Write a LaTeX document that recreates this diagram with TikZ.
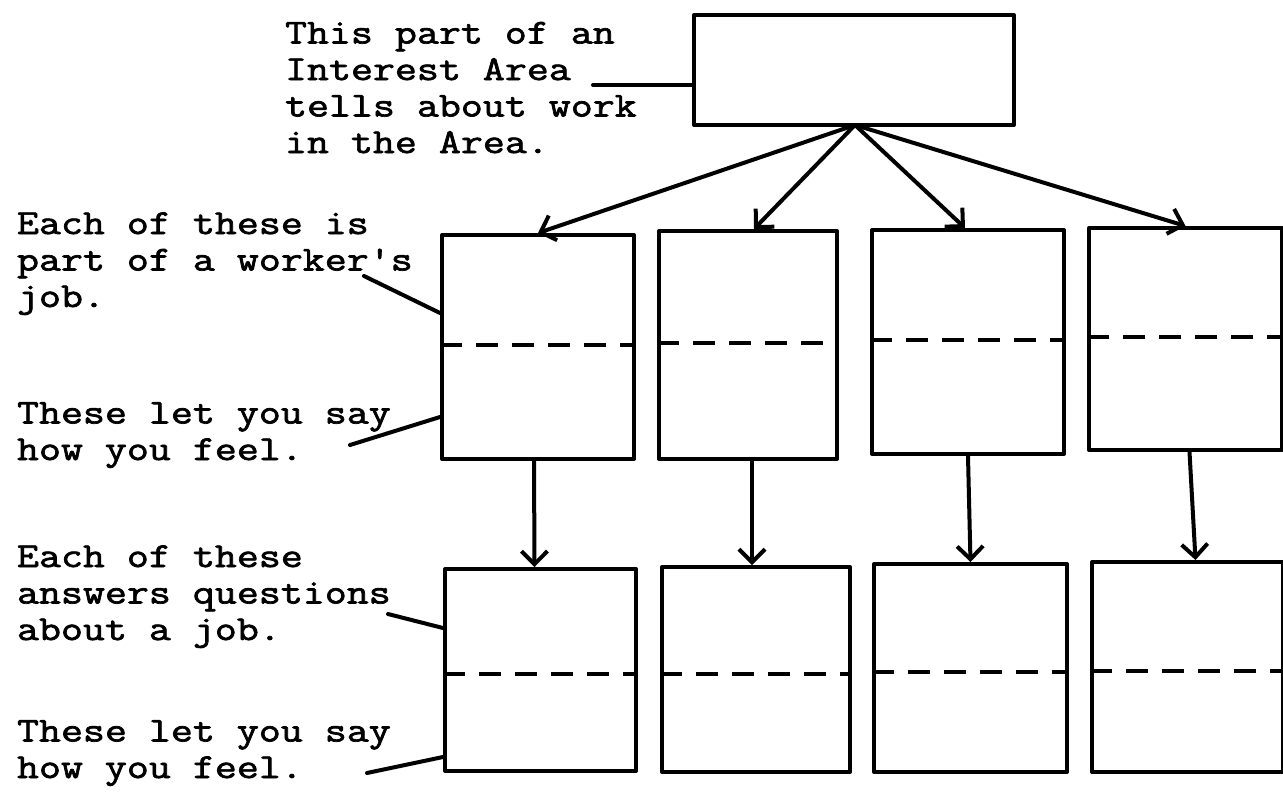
\documentclass[tikz,border=0pt]{standalone}
\usepackage{fontspec}
\usetikzlibrary{arrows.meta,calc}
\newfontfamily\typewriter[FakeStretch=1.22,FakeBold=2]{Latin Modern Mono}
\begin{document}
\begin{tikzpicture}[x=1pt,y=-1pt,
  line width=4pt, line cap=round, line join=round,
  box/.style={draw, rectangle, inner sep=0pt, anchor=north west},
  divider/.style={dash pattern=on 22pt off 14pt, line cap=butt},
  pointer/.style={-{Straight Barb[length=13pt,width=26pt,line width=4pt]}},
  % anchored at the baseline of the last line of each note
  note/.style={align=left, anchor=base west, inner sep=0pt,
    font=\typewriter\fontsize{35}{36.5}\selectfont}]
\useasboundingbox (0,0) rectangle (1283,804);

% the summary box and the two rows of boxes
\node[box, minimum width=320pt, minimum height=110pt] (top) at (692,13) {};
\node[box, minimum width=192pt, minimum height=224pt] (b1) at (440,233) {};
\node[box, minimum width=178pt, minimum height=228pt] (b2) at (657,229) {};
\node[box, minimum width=192pt, minimum height=224pt] (b3) at (870,228) {};
\node[box, minimum width=193pt, minimum height=222pt] (b4) at (1087,226) {};
\node[box, minimum width=191pt, minimum height=202pt] (c1) at (443,567) {};
\node[box, minimum width=188pt, minimum height=205pt] (c2) at (660,565) {};
\node[box, minimum width=193pt, minimum height=208pt] (c3) at (872,562) {};
\node[box, minimum width=191pt, minimum height=210pt] (c4) at (1090,560) {};

% dashed dividers
\foreach \b in {b1,b2,b3,b4}
  \draw[divider] ($(\b.north west)!0.49!(\b.south west)$) -- ($(\b.north east)!0.49!(\b.south east)$);
\foreach \b in {c1,c2,c3,c4}
  \draw[divider] ($(\b.north west)!0.52!(\b.south west)$) -- ($(\b.north east)!0.52!(\b.south east)$);

% arrows fanning out from the summary box
\coordinate (hub) at (855,125);
\draw[pointer] (hub) -- (b1.north);
\draw[pointer] (hub) -- ([xshift=6pt]b2.north);
\draw[pointer] (hub) -- ([xshift=-3pt]b3.north);
\draw[pointer] (hub) -- (b4.north);
% arrows from each box to the one below it
\draw[pointer] ([xshift=-4pt]b1.south) -- ([xshift=-6pt]c1.north);
\draw[pointer] ([xshift=4pt]b2.south) -- ([xshift=-4pt]c2.north);
\draw[pointer] (b3.south) -- (c3.north);
\draw[pointer] ([xshift=4pt]b4.south) -- ([xshift=8pt]c4.north);

% explanatory notes
\node[note] (n1) at (283,153) {This part of an\\Interest Area\\tells about work\\in the Area.};
\node[note] (n2) at (15,307) {Each of these is\\part of a worker's\\job.};
\node[note] (n3) at (15,460) {These let you say\\how you feel.};
\node[note] (n4) at (15,640) {Each of these\\answers questions\\about a job.};
\node[note] (n5) at (15,778) {These let you say\\how you feel.};

% leader lines from notes to boxes
\coordinate (l1) at (593,85);
\coordinate (l2) at (364,276);
\coordinate (l3) at (350,445);
\coordinate (l4) at (388,614);
\coordinate (l5) at (367,773);
\draw (l1) -- (l1 -| top.west);
\draw (l2) -- (b1.north west |- 0,313);
\draw (l3) -- (b1.north west |- 0,417);
\draw (l4) -- (c1.north west |- 0,628);
\draw (l5) -- (c1.north west |- 0,757);
\end{tikzpicture}
\end{document}
